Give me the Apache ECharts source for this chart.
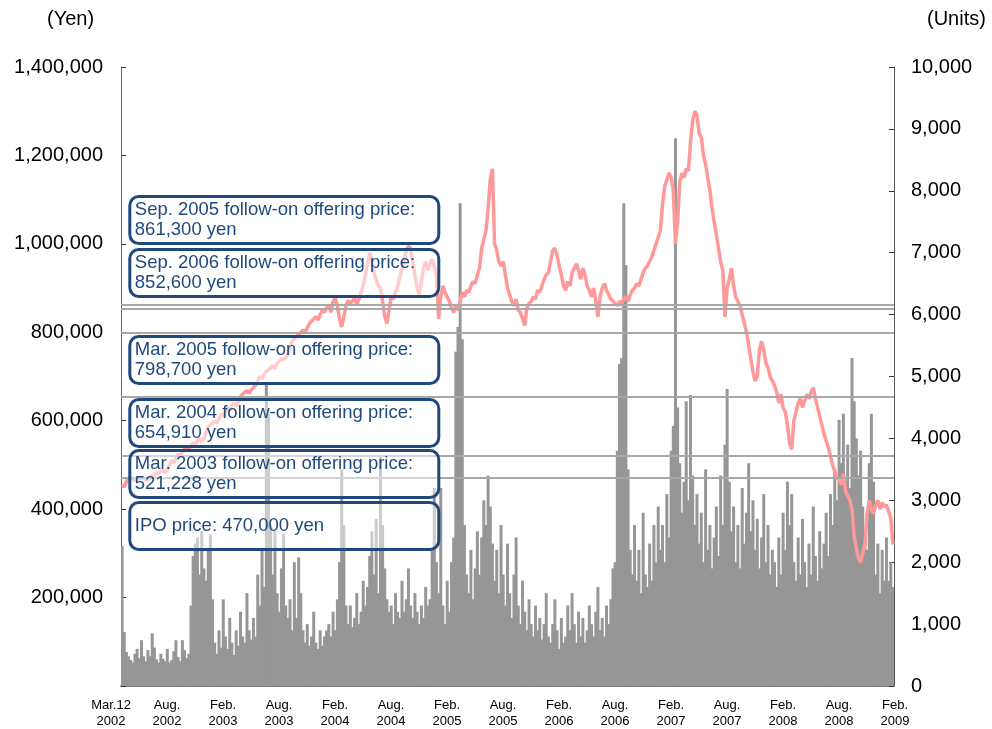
<!DOCTYPE html>
<html>
<head>
<meta charset="utf-8">
<script src="https://cdn.jsdelivr.net/npm/echarts@6/dist/echarts.min.js"></script>
<style>
  html, body { margin: 0; padding: 0; background: #ffffff; }
  #chart { width: 992px; height: 729px; }
</style>
</head>
<body>
<div id="chart"></div>
<script>
const FONT = '"Liberation Sans", Arial, Helvetica, sans-serif';

// Weekly closing price (thousand yen), one array per calendar year
const price2002 = [455,450,462,470,472,468,465,470,468,472, 470,466,468,472,475,478,482,480,485,488,
  482,490,500,510,505,515,525,520,530,535, 540,535,545,550,545,555,560,552,560,575, 585,590,595];
const price2003 = [600,595,605,615,610,620,630,625,635,640, 632,645,655,660,665,668,662,670,675,680,
  690,700,695,705,712,715,720,725,718,730, 735,740,738,742,750,765,780,785,790,795,
  800,805,800,810,820,825,830,835,828,840, 850,845];
const price2004 = [855,862,845,870,878,860,830,812,835,860, 872,865,870,878,862,875,890,905,930,955,
  980,965,935,920,905,900,870,835,820,850, 880,875,890,905,925,945,960,985,995,990,
  960,930,900,885,915,945,960,940,955,965, 950,930];
const price2005 = [830,880,905,890,880,870,855,845,860,850, 870,890,880,895,890,905,915,910,930,945,
  990,1010,1030,1080,1145,1170,1000,985,960,950, 960,930,900,885,870,860,875,850,845,830,
  815,855,865,870,880,875,895,890,905,920, 930,935];
const price2006 = [960,985,990,975,950,930,905,895,915,905, 935,945,955,940,920,945,930,905,895,880,
  900,870,835,880,900,910,895,885,875,870, 865,860,870,865,875,880,870,885,895,900,
  910,905,920,935,945,950,960,970,985,1000, 1015,1030];
const price2007 = [1090,1130,1145,1160,1150,1120,1000,1050,1140,1160, 1150,1170,1165,1230,1280,1300,1290,1250,1240,1200,
  1180,1150,1120,1080,1050,1020,990,960,940,835, 900,920,945,905,880,870,860,840,820,800,
  770,740,710,690,700,760,780,760,730,720, 700,690];
const price2008 = [680,665,640,660,630,620,590,550,535,600, 620,640,650,630,645,660,650,665,675,650,
  630,610,590,570,555,540,520,500,485,470, 470,455,480,440,430,420,400,340,310,290,
  280,300,320,390,420,400,390,410,420,400, 415,405];
const price2009 = [410,395,380,320];

// Weekly trading volume (units), one array per calendar year
const volume2002 = [2260,870,550,480,420,380,520,600,450,740, 480,400,580,480,850,620,430,380,520,440,
  400,600,380,420,560,740,470,400,740,580, 450,520,1300,2100,2300,2400,1800,2500,1900,1700, 2200,2450,1400];
const volume2003 = [700,520,900,620,1400,800,600,1100,700,500, 900,650,1200,800,700,1500,900,750,1100,800,
  1800,1300,2200,1600,4900,4400,2600,1800,2500,1500, 1200,1900,2450,1300,1100,1400,900,2000,1100,2080,
  1500,900,700,1000,650,800,1200,700,600,900, 650,800];
const volume2004 = [900,1000,800,1200,900,1400,2000,3500,2600,1300, 1000,1300,950,1100,1500,1000,1200,1700,1300,1600,
  2100,2500,1800,2700,1500,3700,2600,1900,1400,1200, 1300,1000,1500,1200,1100,1700,1200,1400,1900,1300,
  1100,1500,1200,1000,1300,1100,1600,1300,1400,2200, 3200,2000];
const volume2005 = [1500,3200,1300,1000,1700,1200,2000,2400,5400,5800, 7800,5600,2600,1800,1500,2200,1400,1900,2500,1800,
  2400,3000,2600,3400,2900,2300,1700,2200,1500,2600, 1800,1300,2300,1500,1100,1800,2400,1300,1000,1700,
  1200,900,1400,1000,800,1300,900,1100,750,1000, 1500,800];
const volume2006 = [700,1000,1400,900,600,1100,700,800,1300,900, 1500,1000,700,1200,800,1100,700,900,1300,1000,
  800,1200,1600,900,1100,800,1300,1000,1400,1900, 2000,3800,5200,5300,7800,6800,3500,2200,1800,2600,
  1700,2200,1500,2800,1800,1600,2300,1700,2600,2000, 2900,2200];
const volume2007 = [2600,2000,3100,2400,3800,4200,8850,4500,3600,2800, 3300,4600,3000,4700,3400,2600,3100,2300,2800,2000,
  3500,2200,2600,1900,2400,2900,2100,3400,2600,3900, 4800,3300,2500,2900,2000,2600,1900,3200,2300,2800,
  3600,2500,3000,2200,2700,1900,2400,3100,2000,2600, 1800,2200];
const volume2008 = [2000,1600,2400,1800,2800,2200,3300,2600,3100,2000, 1700,2400,1800,2700,2000,1600,2300,1800,2900,2100,
  1700,2500,1900,2300,2800,2100,3100,2600,3500,3000, 4300,3600,4400,3300,3900,3200,5300,4600,4000,3400,
  3800,2900,2500,2200,3600,4400,3300,1800,2300,1500, 2200,1700];
const volume2009 = [2400,1700,2000,1600];

// Date axis labels
const tickMonths = ['Mar.12','Aug.','Feb.','Aug.','Feb.','Aug.','Feb.','Aug.','Feb.','Aug.','Feb.','Aug.','Feb.','Aug.','Feb.'];
const tickYears  = ['2002','2002','2003','2003','2004','2004','2005','2005','2006','2006','2007','2007','2008','2008','2009'];

// Offering prices (yen)
const offeringNames  = ['Sep. 2005 follow-on offering price:', 'Sep. 2006 follow-on offering price:',
  'Mar. 2005 follow-on offering price:', 'Mar. 2004 follow-on offering price:',
  'Mar. 2003 follow-on offering price:', 'IPO price:'];
const offeringPrices = [861300, 852600, 798700, 654910, 521228, 470000];

const prices  = [].concat(price2002, price2003, price2004, price2005, price2006, price2007, price2008, price2009)
  .map(v => v * 1000);
const volumes = [].concat(volume2002, volume2003, volume2004, volume2005, volume2006, volume2007, volume2008, volume2009);
const weeks = prices.map((_, i) => 'W' + i);

const withCommas = v => String(v).replace(/\B(?=(\d{3})+(?!\d))/g, ',');

// Note boxes, stacked down the left side of the plot
const noteTops = [195, 248, 335, 398, 449, 501];
const noteBoxes = offeringNames.map((name, i) => {
  const single = name.indexOf('IPO') === 0;
  const text = single
    ? name + ' ' + withCommas(offeringPrices[i]) + ' yen'
    : name + '\n' + withCommas(offeringPrices[i]) + ' yen';
  return {
    type: 'group',
    x: 129.8,
    y: noteTops[i] + 1.5,
    z: 100,
    children: [
      {
        type: 'rect', z: 100,
        shape: { x: 0, y: 0, width: 309, height: 47, r: 9 },
        style: { fill: 'rgba(255,255,255,0.5)', stroke: '#1F497D', lineWidth: 3 }
      },
      {
        type: 'text', z: 101, x: 5, y: 23.5,
        style: {
          text: text, fill: '#1F497D', fontSize: 18.5, fontFamily: FONT,
          lineHeight: 19.5, align: 'left', verticalAlign: 'middle'
        }
      }
    ]
  };
});

const chart = echarts.init(document.getElementById('chart'), null, { renderer: 'canvas' });
chart.setOption({
  animation: false,
  backgroundColor: '#ffffff',
  title: [
    { text: '(Yen)', left: 47, top: 9, padding: 0,
      textStyle: { fontSize: 20, fontWeight: 'normal', color: '#000', fontFamily: FONT } },
    { text: '(Units)', left: 927, top: 9, padding: 0,
      textStyle: { fontSize: 20, fontWeight: 'normal', color: '#000', fontFamily: FONT } }
  ],
  grid: [
    { left: 121, right: 98, top: 67, bottom: 43, containLabel: false },
    { left: 111, right: 97, top: 67, bottom: 43, containLabel: false }
  ],
  xAxis: [
    {
      type: 'category', gridIndex: 0, data: weeks, boundaryGap: true,
      axisLine: { show: true, lineStyle: { color: '#505050', width: 1.5 } },
      axisTick: { show: false }, axisLabel: { show: false }, splitLine: { show: false }
    },
    {
      type: 'value', gridIndex: 1, min: 0, max: tickMonths.length - 1, interval: 1,
      axisLine: { show: false }, axisTick: { show: false }, splitLine: { show: false },
      axisLabel: {
        formatter: v => tickMonths[v] + '\n' + tickYears[v],
        fontSize: 13, lineHeight: 15.6, color: '#000', fontFamily: FONT, margin: 14,
        showMinLabel: true, showMaxLabel: true
      }
    }
  ],
  yAxis: [
    {
      type: 'value', gridIndex: 0, position: 'left', min: 0, max: 1400000, interval: 200000,
      axisLine: { show: true, lineStyle: { color: '#666666' } },
      axisTick: { show: true, inside: true, length: 5, lineStyle: { color: '#333333' } },
      splitLine: { show: false },
      axisLabel: { formatter: v => (v === 0 ? '' : withCommas(v)), fontSize: 20, color: '#000',
        fontFamily: FONT, margin: 18 }
    },
    {
      type: 'value', gridIndex: 0, position: 'right', min: 0, max: 10000, interval: 1000,
      axisLine: { show: true, lineStyle: { color: '#555555' } },
      axisTick: { show: true, inside: true, length: 5, lineStyle: { color: '#333333' } },
      splitLine: { show: false },
      axisLabel: { formatter: v => withCommas(v), fontSize: 20, color: '#000',
        fontFamily: FONT, margin: 17 }
    },
    { type: 'value', gridIndex: 1, min: 0, max: 1, show: false }
  ],
  series: [
    {
      name: 'Volume', type: 'bar', xAxisIndex: 0, yAxisIndex: 1, data: volumes,
      barWidth: 3, barGap: '0%', silent: true, z: 1,
      itemStyle: { color: '#969696' }
    },
    {
      name: 'Price', type: 'line', xAxisIndex: 0, yAxisIndex: 0, data: prices,
      symbol: 'none', showSymbol: false, silent: true, z: 3,
      lineStyle: { color: '#FF9999', width: 3.5 }, itemStyle: { color: '#FF9999' },
      markLine: {
        symbol: 'none', silent: true, animation: false,
        label: { show: false },
        lineStyle: { color: '#A8A8A8', width: 2, type: 'solid' },
        data: offeringPrices.map(p => ({ yAxis: p }))
      }
    },
    { type: 'line', xAxisIndex: 1, yAxisIndex: 2, data: [], silent: true }
  ],
  graphic: noteBoxes
});
</script>
</body>
</html>
